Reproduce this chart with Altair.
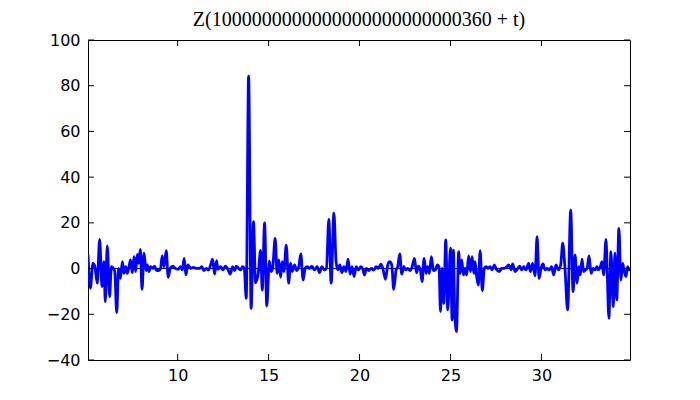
import altair as alt
import pandas as pd

# Values
t_values = [
    5.07, 5.20, 5.34, 5.44, 5.58, 5.71, 5.84, 5.95, 6.02, 6.13, 6.26, 6.35, 6.46, 6.54, 6.65, 6.75, 6.85, 6.96,
    7.05, 7.14, 7.23, 7.34, 7.41, 7.51, 7.60, 7.69, 7.78, 7.85, 7.95, 8.04, 8.15, 8.26, 8.33, 8.42, 8.51, 8.64,
    8.73, 8.82, 8.95, 9.06, 9.15, 9.25, 9.37, 9.48, 9.59, 9.74, 9.87, 10.02, 10.16, 10.25, 10.36, 10.45, 10.56,
    10.71, 10.84, 11.02, 11.21, 11.33, 11.44, 11.57, 11.70, 11.81, 11.92, 12.03, 12.14, 12.21, 12.36, 12.49,
    12.62, 12.76, 12.89, 13.02, 13.13, 13.22, 13.35, 13.46, 13.57, 13.66, 13.77, 13.90, 14.04, 14.17, 14.28,
    14.43, 14.56, 14.65, 14.78, 14.90, 15.04, 15.14, 15.23, 15.36, 15.47, 15.56, 15.66, 15.75, 15.84, 15.97,
    16.10, 16.21, 16.30, 16.43, 16.54, 16.66, 16.77, 16.90, 17.01, 17.12, 17.25, 17.38, 17.52, 17.67, 17.80,
    17.93, 18.07, 18.18, 18.31, 18.44, 18.59, 18.71, 18.81, 18.92, 19.03, 19.14, 19.25, 19.37, 19.48, 19.59,
    19.70, 19.81, 19.94, 20.07, 20.18, 20.27, 20.38, 20.51, 20.64, 20.78, 20.91, 21.04, 21.17, 21.28, 21.43,
    21.55, 21.66, 21.77, 21.88, 22.01, 22.10, 22.21, 22.32, 22.43, 22.54, 22.65, 22.78, 22.89, 23.02, 23.13,
    23.24, 23.35, 23.44, 23.55, 23.66, 23.75, 23.84, 23.95, 24.06, 24.17, 24.28, 24.37, 24.45, 24.54, 24.63,
    24.74, 24.85, 25.00, 25.09, 25.16, 25.23, 25.33, 25.45, 25.53, 25.62, 25.71, 25.80, 25.89, 26.00, 26.10,
    26.19, 26.28, 26.35, 26.44, 26.53, 26.63, 26.75, 26.86, 26.96, 27.05, 27.18, 27.29, 27.41, 27.54, 27.69,
    27.82, 27.96, 28.09, 28.20, 28.33, 28.42, 28.55, 28.70, 28.81, 28.92, 29.03, 29.15, 29.30, 29.39, 29.52,
    29.65, 29.76, 29.87, 29.98, 30.09, 30.20, 30.31, 30.44, 30.56, 30.67, 30.80, 30.93, 31.06, 31.17, 31.30,
    31.44, 31.61, 31.74, 31.85, 31.96, 32.05, 32.14, 32.23, 32.32, 32.41, 32.51, 32.62, 32.73, 32.84, 32.95,
    33.06, 33.13, 33.24, 33.33, 33.42, 33.55, 33.62, 33.71, 33.82, 33.95, 34.04, 34.14, 34.26, 34.37, 34.47,
    34.56, 34.65, 34.74, 34.83, 34.87,
]
z_values = [
    6.0, -8.6, 2.3, 1.2, -6.4, 12.8, -7.9, 3.0, -14.5, 9.9, -12.3, 0.8, 0.1, -1.3, -19.3, 0.1, -4.3, 3.0,
    -2.1, 0.8, -2.1, 1.6, 3.8, -1.8, 5.2, -1.3, 6.2, 2.3, 8.4, -9.1, 6.7, -0.9, 1.6, -1.3, 0.8, 0.1,
    1.1, -0.6, -0.9, 0.1, 5.5, 0.8, 7.8, -3.8, 0.1, 1.1, 0.1, -0.3, 0.8, -0.6, 4.5, -2.8, 1.6,
    0.1, 0.55, 0.1, 0.1, 0.8, -0.9, 0.1, -0.6, 1.6, 4.1, -2.4, 3.5, -0.3, 0.8, -0.6,
    1.1, -0.3, -2.4, 0.8, -0.9, 1.1, 0.1, -0.6, 0.8, 0.1, -13.0, 84.2, -17.4, 20.5, -6.2,
    -2.1, 8.0, -9.4, 20.0, -16.4, 3.3, -1.3, 0.8, 13.2, -2.1, 3.8, -3.8, 3.0, -1.3, 10.3,
    -6.4, 2.3, -1.3, 1.6, -0.9, 0.8, 6.4, -5.0, 0.1, 0.8, 0.1, 1.1, -0.6, 0.8, -1.8,
    0.8, -0.6, 0.1, 21.5, -6.4, 24.2, 3.0, -0.6, 1.6, -1.8, 0.8, -1.3, 4.1, -2.4, 0.8,
    -3.5, 0.8, -0.6, 0.8, -0.3, -2.8, 0.1, -0.9, 0.1, -0.6, 0.8, 0.1, 1.9, 0.1, -4.7,
    1.6, 3.0, 1.6, -9.1, -0.6, 0.8, 6.4, -2.4, 0.8, -0.6, 0.1, -0.9, 0.8, 4.5, -1.8,
    1.1, -0.9, -5.7, 4.5, -2.1, 0.8, -2.1, 5.2, -0.9, -0.6, 1.6, 0.8, -18.8, 0.1, -15.2,
    12.5, -18.1, 8.9, -22.5, 8.1, -18.1, -27.6, 7.4, -2.1, 3.8, -2.8, 0.1, -2.8, 5.5, -1.3,
    5.2, -2.1, 3.0, -3.5, -7.2, 7.8, -9.7, 0.1, 0.8, 0.1, 0.8, -0.6, 1.6, -0.6, -1.3,
    0.1, 0.1, 0.8, 1.6, -0.6, 2.0, -1.3, 0.1, 1.1, -0.6, 0.8, -0.6, 2.3, -1.3, 2.3,
    -3.2, 14.0, -4.3, 0.1, 2.0, -0.6, 0.1, -0.6, 0.8, -2.8, 1.6, -0.6, 1.6, 11.1, -0.6,
    -18.1, 25.6, -10.1, 6.0, -6.4, 0.8, -2.8, 4.1, -1.3, -0.6, 0.1, 5.5, -2.1, 0.1, -0.6,
    0.8, -0.6, 0.8, 3.0, -2.8, 12.8, -2.1, -21.7, 7.4, -16.7, 6.7, -13.7, 17.6, -5.0, 2.3,
    -1.3, -3.5, 0.8, -0.6, 0.0,
]
x_ticks = [10, 15, 20, 25, 30]
y_ticks = [-40, -20, 0, 20, 40, 60, 80, 100]
x_domain = [5.07, 34.87]
y_domain = [-40, 100]
title_text = "Z(1000000000000000000000000360 + t)"

W, H = 542, 320
TICK = 6

xscale = alt.Scale(domain=x_domain, nice=False, zero=False)
yscale = alt.Scale(domain=y_domain, nice=False, zero=False)
x_axis = alt.Axis(values=x_ticks, format="d", labelPadding=7, title=None)
y_axis = alt.Axis(values=y_ticks, format="d", labelPadding=8, title=None)

df = pd.DataFrame({"t": t_values, "z": z_values})

line = alt.Chart(df).mark_line(
    color="#0000ff", strokeWidth=2.8, interpolate="monotone", clip=True
).encode(
    x=alt.X("t:Q", scale=xscale, axis=x_axis),
    y=alt.Y("z:Q", scale=yscale, axis=y_axis),
)

zero_rule = alt.Chart(pd.DataFrame({"z": [0]})).mark_rule(
    color="black", strokeWidth=1
).encode(y=alt.Y("z:Q", scale=yscale, axis=y_axis))

xt = pd.DataFrame({"t": x_ticks})
yt = pd.DataFrame({"z": y_ticks})

xb = alt.Chart(xt).mark_rule(color="black", strokeWidth=1).encode(
    x=alt.X("t:Q", scale=xscale, axis=x_axis), y=alt.value(H), y2=alt.value(H - TICK))
xtop = alt.Chart(xt).mark_rule(color="black", strokeWidth=1).encode(
    x=alt.X("t:Q", scale=xscale, axis=x_axis), y=alt.value(0), y2=alt.value(TICK))
yl = alt.Chart(yt).mark_rule(color="black", strokeWidth=1).encode(
    y=alt.Y("z:Q", scale=yscale, axis=y_axis), x=alt.value(0), x2=alt.value(TICK))
yr = alt.Chart(yt).mark_rule(color="black", strokeWidth=1).encode(
    y=alt.Y("z:Q", scale=yscale, axis=y_axis), x=alt.value(W), x2=alt.value(W - TICK))

chart = alt.layer(zero_rule, line, xb, xtop, yl, yr).properties(
    width=W,
    height=H,
    padding={"left": 80, "top": 32, "right": 62, "bottom": 32},
    autosize=alt.AutoSizeParams(type="none"),
    background="white",
    title=alt.TitleParams(
        text=title_text, font="Liberation Serif", fontSize=20, fontWeight="normal",
        color="black", anchor="middle", offset=2,
    ),
).configure_view(
    stroke="black", strokeWidth=1
).configure_axis(
    ticks=False, tickSize=0, domain=False, grid=False,
    labelFont="DejaVu Sans", labelFontSize=16, labelColor="black",
)

chart.save("out.html", embed_options={"renderer": "svg", "actions": False})
